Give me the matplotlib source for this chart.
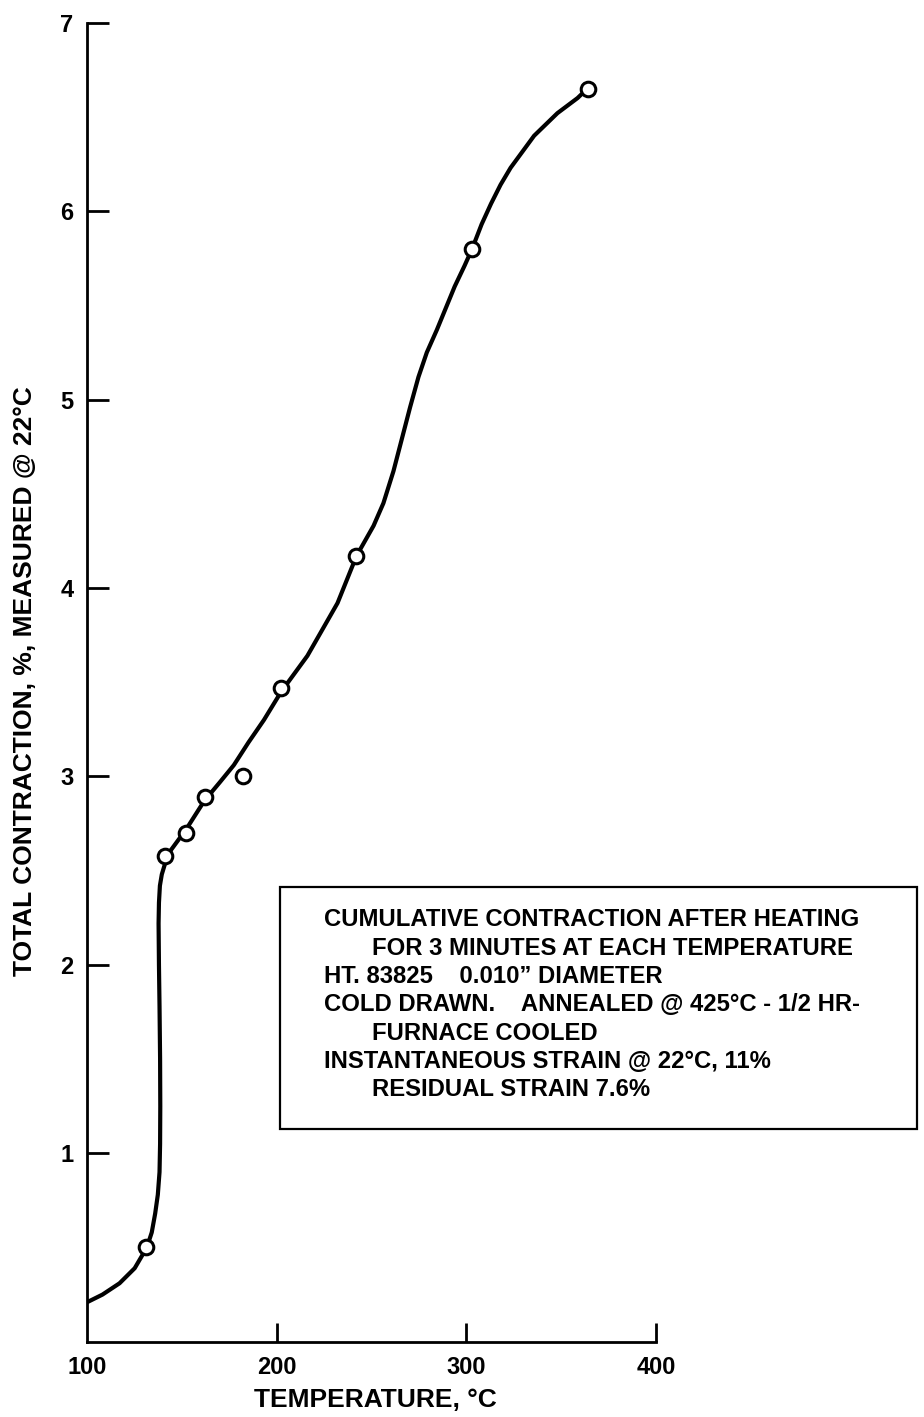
"""Cumulative contraction vs. heating temperature (open circles + hand-drawn trend)."""
import matplotlib
matplotlib.use('Agg')
import matplotlib.pyplot as plt
from matplotlib.patches import Rectangle

# measured points
temp_pts = [131, 141, 152, 162, 182, 202, 242, 303, 364]
contr_pts = [0.50, 2.58, 2.70, 2.89, 3.00, 3.47, 4.17, 5.80, 6.65]

# trend curve
curve_t = [100, 108, 117, 125, 131.4, 134, 135.8, 137.2, 138.1, 138.4, 138.5,
           138.4, 138.1, 137.8, 137.6, 137.8, 138.3, 139.3, 140.8, 142.0,
           152.2, 161.7, 170, 177.3, 185, 193.2, 202.3, 216.1, 232.0, 242.0,
           251.0, 256.2, 261.5, 265.9, 270.3, 274.7, 279.1, 284.4, 293.8,
           299.0, 303.0, 308, 313, 318, 323.3, 335.7, 348.0, 358.6, 363.8]
curve_v = [0.21, 0.25, 0.31, 0.39, 0.50, 0.58, 0.68, 0.78, 0.90, 1.05, 1.25,
           1.50, 1.78, 2.00, 2.22, 2.33, 2.42, 2.48, 2.53, 2.58,
           2.72, 2.87, 2.97, 3.06, 3.18, 3.30, 3.45, 3.64, 3.92, 4.17,
           4.33, 4.45, 4.62, 4.79, 4.96, 5.12, 5.25, 5.37, 5.60,
           5.71, 5.80, 5.93, 6.04, 6.14, 6.23, 6.40, 6.52, 6.60, 6.65]

x_ticks = [100, 200, 300, 400]
y_ticks = [1, 2, 3, 4, 5, 6, 7]

note_lines = [
    ("CUMULATIVE CONTRACTION AFTER HEATING", 0),
    ("FOR 3 MINUTES AT EACH TEMPERATURE", 1),
    ("HT. 83825    0.010\u201d DIAMETER", 0),
    ("COLD DRAWN.    ANNEALED @ 425\u00b0C - 1/2 HR-", 0),
    ("FURNACE COOLED", 1),
    ("INSTANTANEOUS STRAIN @ 22\u00b0C, 11%", 0),
    ("RESIDUAL STRAIN 7.6%", 1),
]

FONT = 'Liberation Sans'
W, H = 924, 1417

fig = plt.figure(figsize=(W / 100, H / 100), dpi=100)
fig.patch.set_facecolor('white')
ax = fig.add_axes([87.3 / W, 1 - 1341.7 / H, (656 - 87.3) / W, (1341.7 - 22.7) / H])

ax.plot(curve_t, curve_v, color='black', lw=3.0, solid_joinstyle='round',
        solid_capstyle='round', zorder=2)
ax.plot(temp_pts, contr_pts, 'o', ms=10.5, mfc='white', mec='black', mew=2.2,
        zorder=3)

ax.set_xlim(100, 400)
ax.set_ylim(0, 7)
ax.set_xticks(x_ticks)
ax.set_yticks(y_ticks)
ax.set_xticklabels([str(t) for t in x_ticks], fontfamily=FONT,
                   fontweight='bold', fontsize=17)
ax.set_yticklabels([str(t) for t in y_ticks], fontfamily=FONT,
                   fontweight='bold', fontsize=17)
ax.tick_params(axis='y', direction='in', length=16, width=2, pad=10)
ax.tick_params(axis='x', direction='in', length=14, width=2, pad=10)
ax.xaxis.get_major_ticks()[0].tick1line.set_visible(False)

for s in ['top', 'right']:
    ax.spines[s].set_visible(False)
for s in ['left', 'bottom']:
    ax.spines[s].set_linewidth(2)

fig.text(375 / W, 1 - 1400 / H, "TEMPERATURE, \u00b0C", ha='center', va='center',
         fontfamily=FONT, fontweight='bold', fontsize=19)
fig.text(25 / W, 1 - 681 / H, "TOTAL CONTRACTION, %, MEASURED @ 22\u00b0C",
         rotation=90, ha='center', va='center', fontfamily=FONT,
         fontweight='bold', fontsize=19)

# annotation box
box = Rectangle((280 / W, 1 - 1129 / H), (916.7 - 280) / W, (1129 - 887) / H,
                transform=fig.transFigure, fill=False, ec='black', lw=1.6)
fig.patches.append(box)
for i, (line, indent) in enumerate(note_lines):
    x = (372 if indent else 324) / W
    y = 1 - (920 + 28.3 * i) / H
    fig.text(x, y, line, ha='left', va='center', fontfamily=FONT,
             fontweight='bold', fontsize=17.2)

fig.savefig('out.png', dpi=100, facecolor='white')
